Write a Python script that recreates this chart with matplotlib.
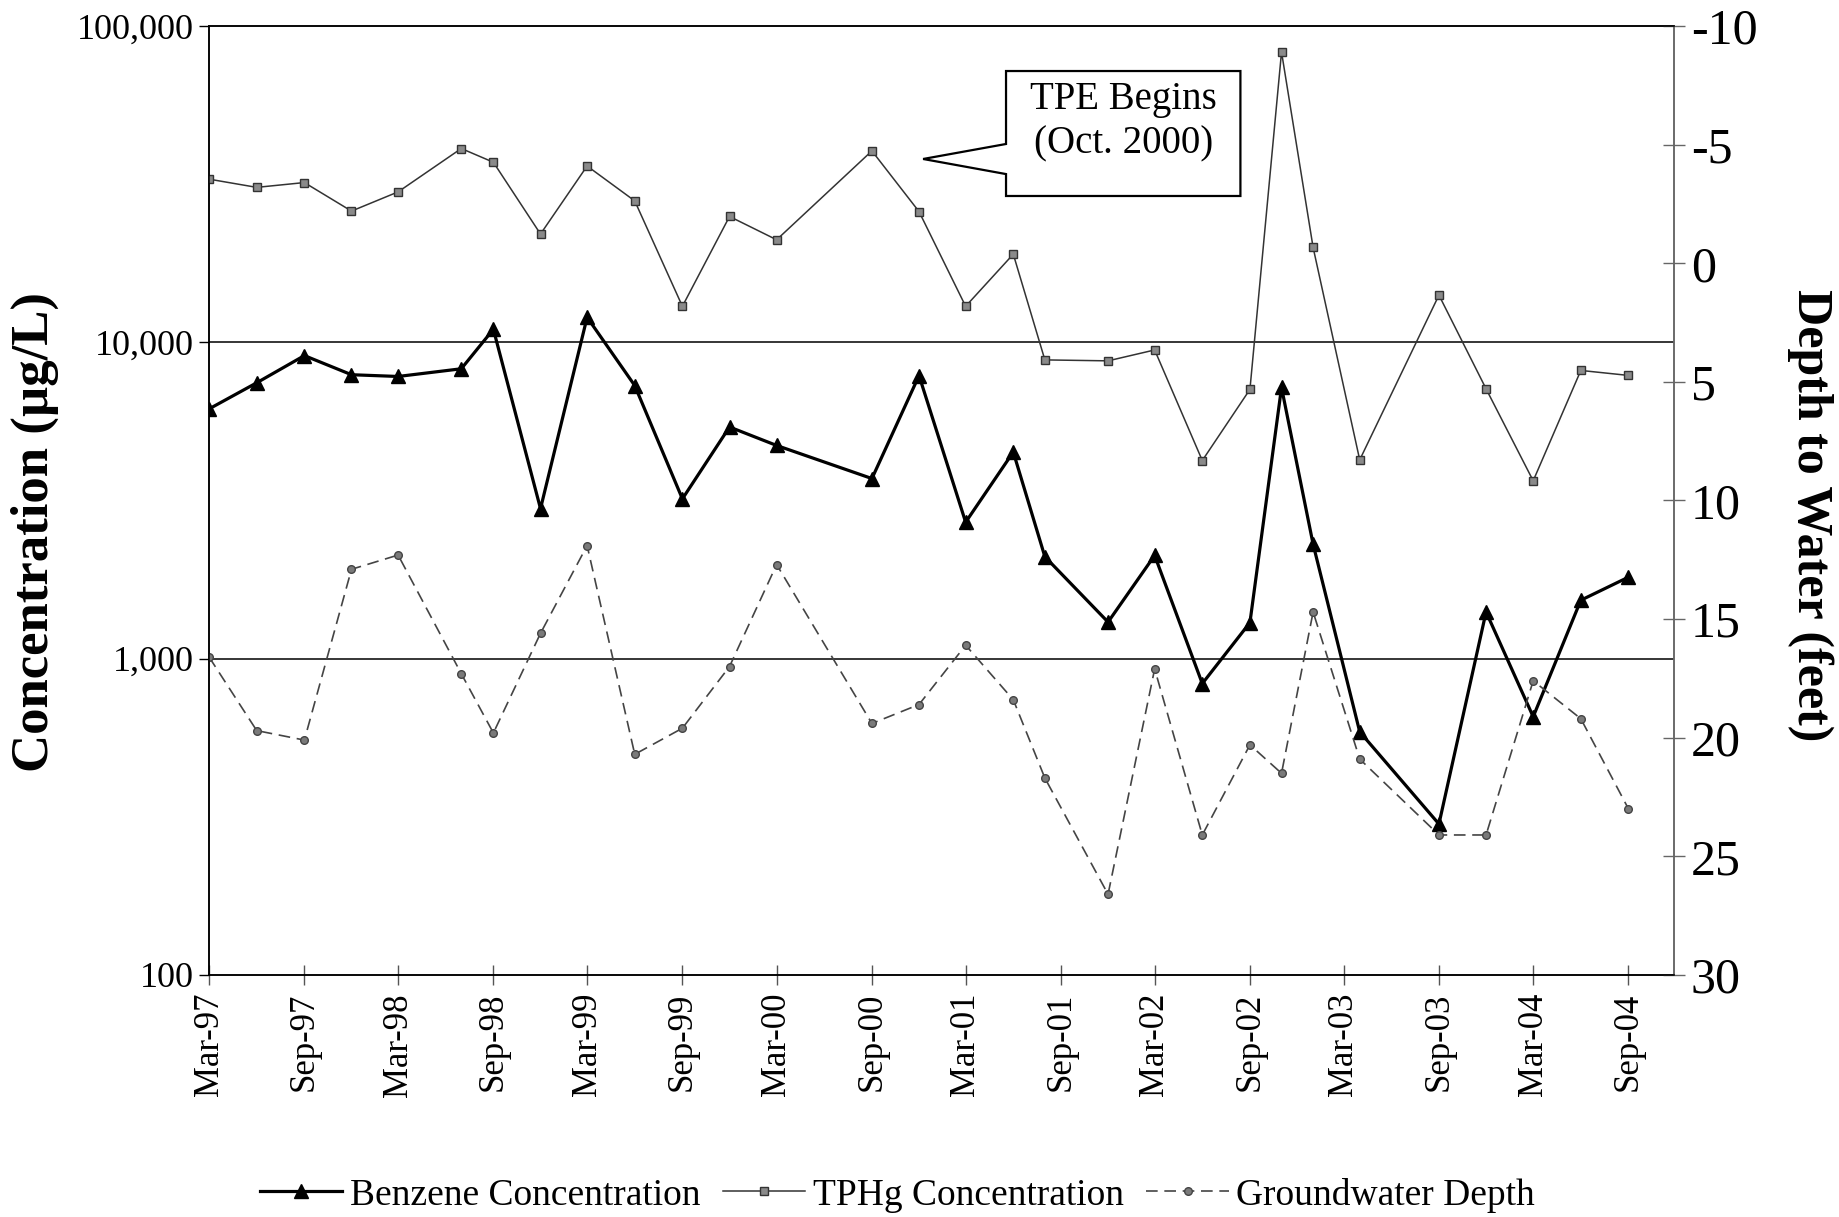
import pandas as pd
import matplotlib
matplotlib.use('Agg')
import matplotlib.pyplot as plt
import matplotlib.dates as mdates
from matplotlib.patches import Polygon
from matplotlib.ticker import FuncFormatter, FixedLocator, NullLocator

plt.rcParams['font.family'] = ['Liberation Serif', 'DejaVu Serif']
plt.rcParams['axes.unicode_minus'] = False

# sampling dates (month of sample)
dates = ['1997-03', '1997-06', '1997-09', '1997-12', '1998-03', '1998-07', '1998-09',
         '1998-12', '1999-03', '1999-06', '1999-09', '1999-12', '2000-03', '2000-09',
         '2000-12', '2001-03', '2001-06', '2001-08', '2001-12', '2002-03', '2002-06',
         '2002-09', '2002-11', '2003-01', '2003-04', '2003-09', '2003-12', '2004-03',
         '2004-06', '2004-09']

benzene = [6160, 7450, 9080, 7900, 7800, 8250, 11000, 2980, 12000, 7300, 3200, 5400,
           4720, 3710, 7850, 2700, 4500, 2100, 1305, 2120, 834, 1300, 7200, 2300, 587,
           300, 1405, 655, 1530, 1810]

tphg = [32800, 30900, 32000, 26000, 29900, 41000, 37100, 22000, 36100, 28000, 13000,
        25000, 21100, 40300, 25900, 13000, 19000, 8800, 8740, 9460, 4230, 7100, 82800,
        19950, 4250, 14100, 7130, 3650, 8150, 7860]

gw_depth = [16.6, 19.7, 20.1, 12.9, 12.3, 17.3, 19.8, 15.6, 11.9, 20.7, 19.6, 17.0,
            12.7, 19.4, 18.6, 16.1, 18.4, 21.7, 26.6, 17.1, 24.1, 20.3, 21.5, 14.7,
            20.9, 24.1, 24.1, 17.6, 19.2, 23.0]

conc_ticks = [100, 1000, 10000, 100000]
depth_ticks = [-10, -5, 0, 5, 10, 15, 20, 25, 30]

x = pd.to_datetime(dates)

fig = plt.figure(figsize=(18.39, 12.17), dpi=100)
ax = fig.add_axes([0.1137, 0.1989, 0.7966, 0.7797])
ax2 = ax.twinx()

# concentrations (log axis)
ax.plot(x, benzene, color='black', lw=2.3, marker='^', ms=10, mfc='black', mec='black',
        label='Benzene Concentration', zorder=4)
ax.plot(x, tphg, color='#333333', lw=1.1, marker='s', ms=6, mfc='#8a8a8a', mec='#333333',
        mew=1, label='TPHg Concentration', zorder=3)
ax.set_yscale('log')
ax.set_ylim(100, 100000)
ax.yaxis.set_major_locator(FixedLocator(conc_ticks))
ax.yaxis.set_minor_locator(NullLocator())
ax.yaxis.set_major_formatter(FuncFormatter(lambda v, p: f'{int(v):,}'))
for v in conc_ticks[1:3]:
    ax.axhline(v, color='black', lw=1.1, zorder=1)

ax.set_xlim(pd.Timestamp('1997-03-01'), pd.Timestamp('2004-11-28'))
ax.xaxis.set_major_locator(mdates.MonthLocator(bymonth=[3, 9]))
ax.xaxis.set_major_formatter(mdates.DateFormatter('%b-%y'))
plt.setp(ax.get_xticklabels(), rotation=90, fontsize=25)
ax.tick_params(axis='x', direction='inout', length=14, width=1, color='#555555', pad=6)
ax.tick_params(axis='y', direction='out', length=7, width=1, labelsize=26, pad=4)
ax.set_ylabel('Concentration (µg/L)', fontsize=38, fontweight='bold', va='center')
ax.yaxis.set_label_coords(-0.119, 0.467)

# groundwater depth (inverted right axis)
ax2.plot(x, gw_depth, color='#444444', lw=1.2, ls=(0, (7, 4)), marker='o', ms=5.5,
         mfc='#7a7a7a', mec='#444444', label='Groundwater Depth', zorder=2)
ax2.set_ylim(30, -10)
ax2.yaxis.set_major_locator(FixedLocator(depth_ticks))
ax2.tick_params(axis='y', direction='inout', length=16, width=1, color='#666666',
                labelsize=36, pad=4)
ax2.set_ylabel('Depth to Water (feet)', fontsize=36, fontweight='bold', rotation=270,
               va='center')
ax2.yaxis.set_label_coords(1.093, 0.484)

for a in (ax, ax2):
    a.spines['left'].set_color('black')
    a.spines['bottom'].set_color('black')
    a.spines['top'].set_color('black')
    a.spines['right'].set_color('#666666')
    for s in a.spines.values():
        s.set_linewidth(1.1)

# callout
callout = Polygon([(0.544, 0.9526), (0.704, 0.9526), (0.704, 0.8209), (0.544, 0.8209),
                   (0.544, 0.844), (0.4874, 0.8599), (0.544, 0.8757)],
                  closed=True, transform=ax.transAxes, facecolor='white',
                  edgecolor='black', lw=1.6, zorder=6)
ax.add_patch(callout)
ax.text(0.624, 0.899, 'TPE Begins\n(Oct. 2000)', transform=ax.transAxes, ha='center',
        va='center', fontsize=28, linespacing=1.25, zorder=7)

h1, l1 = ax.get_legend_handles_labels()
h2, l2 = ax2.get_legend_handles_labels()
fig.legend(h1 + h2, l1 + l2, loc='center', bbox_to_anchor=(0.488, 0.018), ncol=3,
           frameon=False, fontsize=27, handlelength=2.2, handletextpad=0.2,
           columnspacing=0.6)

fig.savefig('out.png', dpi=100)
